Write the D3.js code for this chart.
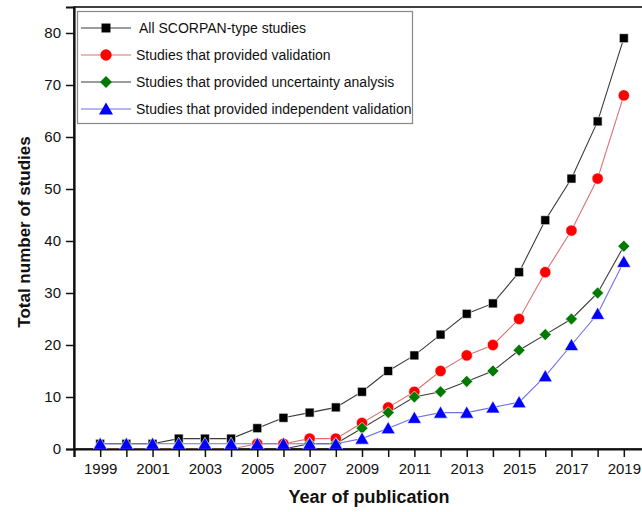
<!DOCTYPE html>
<html>
<head>
<meta charset="utf-8">
<script src="https://cdn.jsdelivr.net/npm/d3@7/dist/d3.min.js"></script>
<style>
  html, body { margin: 0; padding: 0; background: #fff; }
  svg { display: block; font-family: Arial, "Liberation Sans", sans-serif; }
</style>
</head>
<body>
<svg id="chart" width="642" height="512"></svg>
<script>
// Publication years
const years = d3.range(1999, 2020);

// Number of studies per year for each group
const allStudies      = [1, 1, 1, 2, 2, 2, 4, 6, 7, 8, 11, 15, 18, 22, 26, 28, 34, 44, 52, 63, 79];
const validation      = [0, 0, 0, 0, 0, 0, 1, 1, 2, 2, 5, 8, 11, 15, 18, 20, 25, 34, 42, 52, 68];
const uncertainty     = [0, 0, 0, 0, 0, 0, 0, 0, 1, 1, 4, 7, 10, 11, 13, 15, 19, 22, 25, 30, 39];
const independentVal  = [1, 1, 1, 1, 1, 1, 1, 1, 1, 1, 2, 4, 6, 7, 7, 8, 9, 14, 20, 26, 36];

const seriesNames = [
  "All SCORPAN-type studies",
  "Studies that provided validation",
  "Studies that provided uncertainty analysis",
  "Studies that provided independent validation"
];

const yTicks = [0, 10, 20, 30, 40, 50, 60, 70, 80];
const xTickLabels = [1999, 2001, 2003, 2005, 2007, 2009, 2011, 2013, 2015, 2017, 2019];

const series = [
  { name: seriesNames[0], values: allStudies,     line: "#3a3a3a", fill: "#000000", shape: d3.symbolSquare,   size: 80,  rot: 0 },
  { name: seriesNames[1], values: validation,     line: "#d97070", fill: "#ff0000", shape: d3.symbolCircle,   size: 100, rot: 0 },
  { name: seriesNames[2], values: uncertainty,    line: "#3a3a3a", fill: "#007a00", shape: d3.symbolSquare,   size: 72,  rot: 45 },
  { name: seriesNames[3], values: independentVal, line: "#6f6ff0", fill: "#0000ff", shape: d3.symbolTriangle, size: 85,  rot: 0 }
];

const svg = d3.select("#chart");

const plotLeft = 74, plotRight = 650, plotTop = 7, plotBottom = 449;

const x = d3.scaleLinear().domain([1998, 2020]).range([plotLeft, plotRight]);
const y = d3.scaleLinear().domain([0, 85]).range([plotBottom, plotTop]);

// Clip the data to the plotting frame
svg.append("defs").append("clipPath").attr("id", "plotClip")
  .append("rect").attr("x", plotLeft).attr("y", plotTop)
  .attr("width", plotRight - plotLeft).attr("height", plotBottom - plotTop);

// Frame (top and right border)
svg.append("rect")
  .attr("x", plotLeft).attr("y", plotTop)
  .attr("width", plotRight - plotLeft).attr("height", plotBottom - plotTop)
  .attr("fill", "none").attr("stroke", "#111").attr("stroke-width", 1.6);

// Y axis
const yAxis = svg.append("g")
  .attr("transform", `translate(${plotLeft},0)`)
  .call(d3.axisLeft(y).tickValues(yTicks).tickSize(8).tickPadding(5).tickFormat(d3.format("d")));
yAxis.select(".domain").attr("stroke", "#111").attr("stroke-width", 2.2);
yAxis.selectAll(".tick line").attr("stroke", "#111").attr("stroke-width", 1.5);
yAxis.selectAll(".tick text").attr("font-size", 15).attr("fill", "#111")
  .attr("font-family", "Arial, 'Liberation Sans', sans-serif");

// X axis: tick every year, label every other year
const xAxis = svg.append("g")
  .attr("transform", `translate(0,${plotBottom})`)
  .call(d3.axisBottom(x).tickValues(d3.range(1998, 2021)).tickSize(8).tickPadding(6)
    .tickFormat(d => xTickLabels.includes(d) ? String(d) : ""));
xAxis.select(".domain").attr("stroke", "#111").attr("stroke-width", 2.2);
xAxis.selectAll(".tick line").attr("stroke", "#111").attr("stroke-width", 1.5);
xAxis.selectAll(".tick text").attr("font-size", 15).attr("fill", "#111")
  .attr("font-family", "Arial, 'Liberation Sans', sans-serif");

// Series lines and markers
const plot = svg.append("g").attr("clip-path", "url(#plotClip)");
const line = d3.line().x((d, i) => x(years[i])).y(d => y(d));

series.forEach(s => {
  plot.append("path")
    .datum(s.values)
    .attr("d", line)
    .attr("fill", "none")
    .attr("stroke", s.line)
    .attr("stroke-width", 1.1);
});

const markerOffset = s => (s.shape === d3.symbolTriangle ? 1.5 : 0);

series.forEach(s => {
  const sym = d3.symbol().type(s.shape).size(s.size);
  plot.append("g").selectAll("path")
    .data(s.values)
    .join("path")
    .attr("d", sym)
    .attr("transform", (d, i) => `translate(${x(years[i])},${y(d) + markerOffset(s)}) rotate(${s.rot})`)
    .attr("fill", s.fill)
    .attr("stroke", "#fff")
    .attr("stroke-width", 0.6);
});

// Legend
const legend = svg.append("g");
legend.append("rect")
  .attr("x", 77.5).attr("y", 11.5).attr("width", 335).attr("height", 112)
  .attr("fill", "#fff").attr("stroke", "#888").attr("stroke-width", 1.2);
series.forEach((s, i) => {
  const ly = 28 + i * 27;
  legend.append("line")
    .attr("x1", 81).attr("x2", 131).attr("y1", ly).attr("y2", ly)
    .attr("stroke", s.line).attr("stroke-width", 1.1);
  legend.append("path")
    .attr("d", d3.symbol().type(s.shape).size(s.size)())
    .attr("transform", `translate(106,${ly + markerOffset(s)}) rotate(${s.rot})`)
    .attr("fill", s.fill);
  legend.append("text")
    .attr("x", i === 0 ? 139 : 136).attr("y", ly + 5)
    .attr("font-size", 14).attr("fill", "#111")
    .text(s.name);
});

// Axis titles
svg.append("text")
  .attr("x", 369).attr("y", 503)
  .attr("text-anchor", "middle")
  .attr("font-size", 18).attr("font-weight", "bold").attr("fill", "#111")
  .text("Year of publication");

svg.append("text")
  .attr("transform", "translate(30,232) rotate(-90)")
  .attr("text-anchor", "middle")
  .attr("font-size", 17).attr("font-weight", "bold").attr("fill", "#111")
  .text("Total number of studies");
</script>
</body>
</html>
